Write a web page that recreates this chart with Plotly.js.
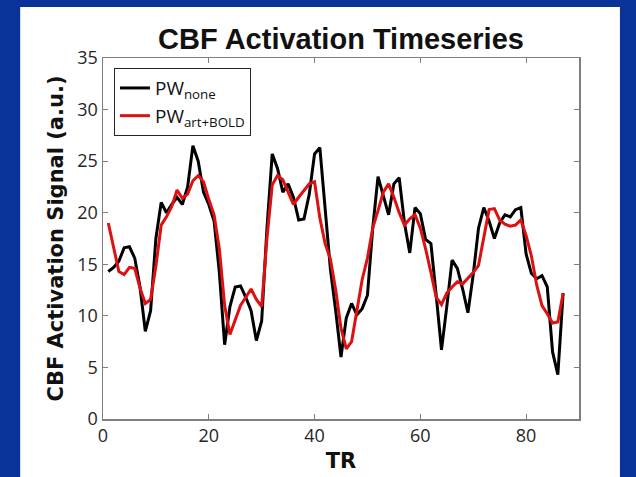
<!DOCTYPE html>
<html><head><meta charset="utf-8">
<script src="https://cdn.plot.ly/plotly-3.0.1.min.js"></script>
<style>html,body{margin:0;padding:0;background:#0a3399;}#chart{width:636px;height:477px;}</style>
</head><body><div id="chart"></div>
<script>
const tr = [];
for (let i = 1; i <= 87; i++) tr.push(i);
const pwNone = [14.3,14.7,15.3,16.6,16.7,15.6,12.8,8.5,10.5,17.5,
  21.0,20.0,20.8,21.5,20.8,22.5,26.5,25.0,22.0,20.8,
  19.2,14.2,7.2,10.9,12.8,12.9,11.8,10.5,7.6,9.5,
  18.5,25.7,24.3,22.0,22.8,21.5,19.3,19.4,21.8,25.7,
  26.3,20.5,14.5,10.5,6.0,9.8,11.2,10.1,10.7,12.0,
  18.5,23.5,21.6,19.8,22.8,23.4,19.0,16.1,20.5,19.9,
  17.4,17.0,12.0,6.7,10.9,15.4,14.6,12.6,10.3,14.0,
  18.5,20.5,19.2,17.5,19.0,19.8,19.6,20.3,20.5,16.0,
  14.1,13.6,13.9,12.8,6.5,4.3,12.2];
const pwArtBold = [19.0,16.5,14.3,14.0,14.7,14.6,12.7,11.2,11.6,14.8,
  18.8,19.6,20.6,22.2,21.4,21.8,23.1,23.6,23.0,21.3,
  19.8,16.5,11.0,8.2,9.6,11.0,11.8,12.6,11.6,10.9,
  17.5,22.7,23.6,23.2,22.0,20.8,21.5,22.2,22.8,23.0,
  19.5,17.0,15.5,12.5,8.8,6.8,7.5,10.5,13.5,15.6,
  18.5,20.2,22.0,22.8,21.5,20.0,18.8,19.4,19.8,18.5,
  16.5,14.2,11.8,11.1,12.2,12.8,13.3,13.1,13.6,14.2,
  14.9,17.8,20.3,20.4,19.3,18.9,18.7,18.8,19.3,17.8,
  15.8,13.0,11.0,10.2,9.3,9.4,12.2];
const xTicks = [0,20,40,60,80];
const yTicks = [0,5,10,15,20,25,30,35];

const traces = [
  {x: tr, y: pwNone, mode: 'lines', name: 'PW<sub>none</sub>', line: {color: '#000000', width: 3}},
  {x: tr, y: pwArtBold, mode: 'lines', name: 'PW<sub>art+BOLD</sub>', line: {color: '#dd1111', width: 3}}
];
const axisCommon = {showgrid: false, zeroline: false, showline: true, linecolor: '#7f7f7f', linewidth: 1.5,
  mirror: 'ticks', ticks: 'inside', ticklen: 5, tickcolor: '#7f7f7f', tickwidth: 1,
  tickfont: {family: 'Open Sans', size: 18, color: '#262626'}};
const layout = {
  width: 636, height: 477,
  paper_bgcolor: '#0a3399', plot_bgcolor: '#ffffff',
  margin: {l: 103, r: 57, t: 58, b: 58},
  showlegend: true,
  title: {text: 'CBF Activation Timeseries', font: {family: 'Liberation Sans', size: 29, color: '#111111', weight: 'bold'},
    x: 0.5, xref: 'paper', xanchor: 'center', y: 1, yref: 'paper', yanchor: 'bottom', pad: {b: 9}},
  xaxis: Object.assign({}, axisCommon, {range: [0, 90], tickvals: xTicks,
    title: {text: '<b>TR</b>', font: {family: 'DejaVu Sans', size: 21, color: '#111111'}, standoff: 7}}),
  yaxis: Object.assign({}, axisCommon, {range: [0, 35], tickvals: yTicks,
    title: {text: '<b>CBF Activation Signal (a.u.)</b>', font: {family: 'DejaVu Sans', size: 21, color: '#111111'}, standoff: 8}}),
  legend: {x: 0.023, y: 0.972, xanchor: 'left', yanchor: 'top', bgcolor: '#ffffff',
    bordercolor: '#262626', borderwidth: 1, font: {family: 'Open Sans', size: 19, color: '#111111'}},
  shapes: [{type: 'rect', xref: 'paper', yref: 'paper', x0: -0.174, x1: 1.086, y0: -0.17, y1: 1.141,
    fillcolor: '#ffffff', line: {width: 0}, layer: 'below'}]
};
Plotly.newPlot('chart', traces, layout, {displayModeBar: false, staticPlot: true});
</script></body></html>
